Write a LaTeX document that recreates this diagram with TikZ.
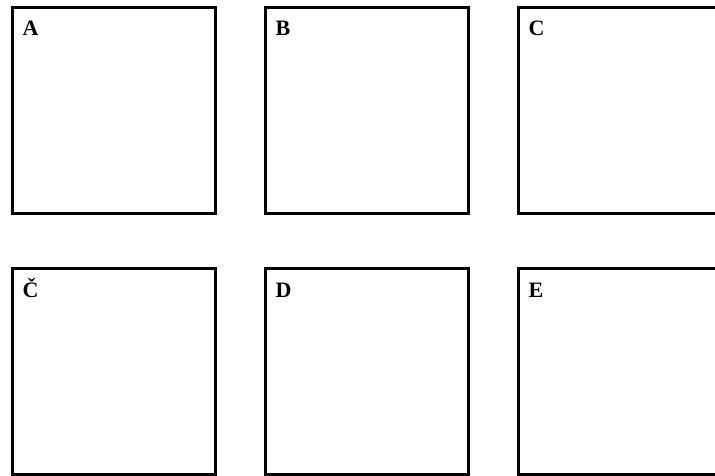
\documentclass[tikz,border=0pt]{standalone}
\usepackage{fontspec}
\setmainfont{Liberation Serif}
\begin{document}
\begin{tikzpicture}[x=1pt,y=-1pt,font=\bfseries\fontsize{22}{22}\selectfont]
\useasboundingbox (0,0) rectangle (715,476);
\clip (0,0) rectangle (715,476);
\foreach \lbl/\nm/\c/\r in {A/a/0/0,B/b/1/0,C/c/2/0,Č/cc/0/1,D/d/1/1,E/e/2/1} {
  \draw[line width=3.6] (12.5+253*\c,7.5+261*\r) rectangle ++(203,206);
  \node[anchor=base west,inner sep=0] (lbl\nm) at (22.5+253*\c,36+261*\r) {\lbl};
}
\end{tikzpicture}
\end{document}
